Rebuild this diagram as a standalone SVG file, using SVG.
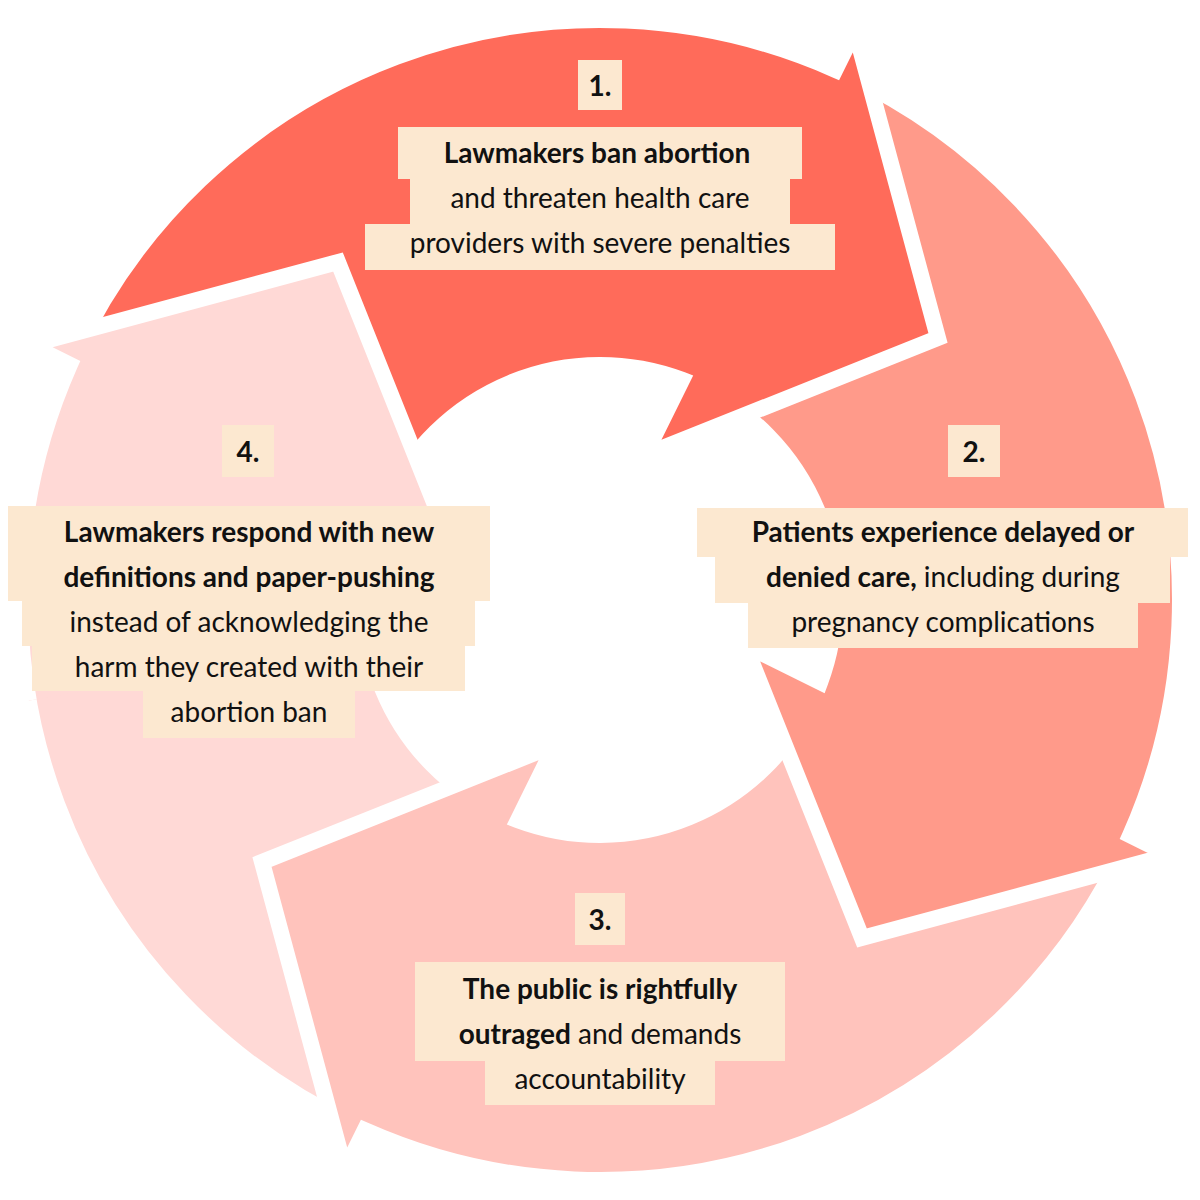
<svg xmlns="http://www.w3.org/2000/svg" xmlns:xlink="http://www.w3.org/1999/xlink" width="1200" height="1200" viewBox="0 0 1200 1200">
<style>
.seg{stroke:#fff;stroke-width:16;stroke-linejoin:miter}
.bg{fill:#FCE8D0}
text{font-family:Lato,"Open Sans",sans-serif;font-size:28px;fill:#111;text-anchor:middle;dominant-baseline:central}
.b{font-weight:bold}
</style>
<defs>
<path id="seg" d="M74.3,354.9 A580,580 0 0 1 835.3,69.9 L855,30 L938,338 L645,455 L682.1,379.8 A235,235 0 0 0 387.0,500.7 Z"/>
<clipPath id="w"><polygon points="600,600 -286,756 -400,-300 292,-246"/></clipPath>
</defs>
<g id="connectors">
<use id="arrow4" xlink:href="#seg" class="seg" fill="#FFD9D6" transform="rotate(270 600 600)"/>
<use id="arrow3" xlink:href="#seg" class="seg" fill="#FFC3BC" transform="rotate(180 600 600)"/>
<use id="arrow2" xlink:href="#seg" class="seg" fill="#FF9A8A" transform="rotate(90 600 600)"/>
<use id="arrow1" xlink:href="#seg" class="seg" fill="#FF6B5A"/>
<g clip-path="url(#w)"><use xlink:href="#seg" class="seg" fill="#FFD9D6" transform="rotate(270 600 600)"/></g>
</g>
<g id="node1">
<rect class="bg" x="578" y="60" width="44" height="50"/>
<rect class="bg" x="398" y="127" width="404" height="52"/>
<rect class="bg" x="410" y="179" width="380" height="46"/>
<rect class="bg" x="365" y="224" width="470" height="46"/>
<text class="b" x="600" y="85">1.</text>
<text class="b" x="597" y="152">Lawmakers ban abortion</text>
<text x="600" y="197">and threaten health care</text>
<text x="600" y="242">providers with severe penalties</text>
</g>
<g id="node2">
<rect class="bg" x="948" y="425" width="52" height="52"/>
<rect class="bg" x="697" y="508" width="491" height="49"/>
<rect class="bg" x="715" y="556" width="455" height="47"/>
<rect class="bg" x="748" y="602" width="390" height="46"/>
<text class="b" x="974" y="451">2.</text>
<text class="b" x="943" y="531">Patients experience delayed or</text>
<text x="943" y="576"><tspan class="b">denied care,</tspan> including during</text>
<text x="943" y="621">pregnancy complications</text>
</g>
<g id="node3">
<rect class="bg" x="575" y="893" width="50" height="52"/>
<rect class="bg" x="415" y="962" width="370" height="49"/>
<rect class="bg" x="415" y="1010" width="370" height="51"/>
<rect class="bg" x="485" y="1060" width="230" height="45"/>
<text class="b" x="600" y="919">3.</text>
<text class="b" x="600" y="988">The public is rightfully</text>
<text x="600" y="1033"><tspan class="b">outraged</tspan> and demands</text>
<text x="600" y="1078">accountability</text>
</g>
<g id="node4">
<rect class="bg" x="222" y="425" width="52" height="52"/>
<rect class="bg" x="8" y="506" width="482" height="49"/>
<rect class="bg" x="8" y="554" width="482" height="47"/>
<rect class="bg" x="22" y="600" width="453" height="46"/>
<rect class="bg" x="32" y="645" width="433" height="46"/>
<rect class="bg" x="143" y="690" width="212" height="48"/>
<text class="b" x="248" y="451">4.</text>
<text class="b" x="249" y="531">Lawmakers respond with new</text>
<text class="b" x="249" y="576">definitions and paper-pushing</text>
<text x="249" y="621">instead of acknowledging the</text>
<text x="249" y="666">harm they created with their</text>
<text x="249" y="711">abortion ban</text>
</g>
</svg>
